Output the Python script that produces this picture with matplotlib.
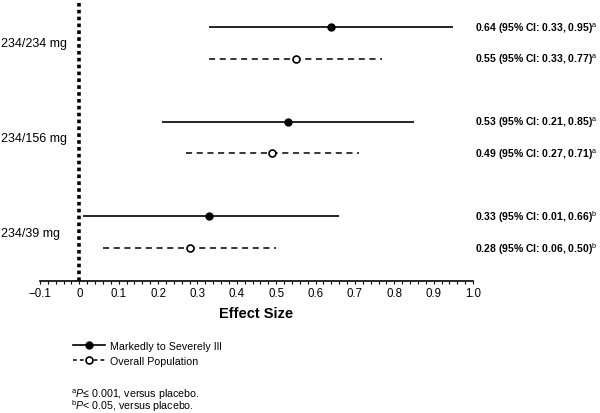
import numpy as np
import matplotlib.pyplot as plt
from matplotlib.lines import Line2D
from matplotlib.ticker import MultipleLocator

plt.rcParams['font.family'] = ['Liberation Sans', 'DejaVu Sans']
plt.rcParams['mathtext.fontset'] = 'custom'
plt.rcParams['mathtext.rm'] = 'Liberation Sans'
plt.rcParams['mathtext.it'] = 'Liberation Sans:italic'
plt.rcParams['mathtext.bf'] = 'Liberation Sans:bold'

# dose groups
groups = ['234/234 mg', '234/156 mg', '234/39 mg']

# markedly to severely ill
severe_es = [0.64, 0.53, 0.33]
severe_lo = [0.33, 0.21, 0.01]
severe_hi = [0.95, 0.85, 0.66]

# overall population
overall_es = [0.55, 0.49, 0.28]
overall_lo = [0.33, 0.27, 0.06]
overall_hi = [0.77, 0.71, 0.50]

# significance footnote per group
sig = ['a', 'a', 'b']

xticks = [-0.1, 0, 0.1, 0.2, 0.3, 0.4, 0.5, 0.6, 0.7, 0.8, 0.9, 1.0]
xticklabels = ['\u22120.1', '0', '0.1', '0.2', '0.3', '0.4', '0.5',
               '0.6', '0.7', '0.8', '0.9', '1.0']

fig = plt.figure(figsize=(6, 4.14), dpi=100)
ax = fig.add_axes([40 / 600, 1 - 282 / 414, 433 / 600, 282 / 414])

y_sev = np.arange(3) * 3 + 0.9
y_all = y_sev + 1.0

for i in range(3):
    ax.plot([severe_lo[i], severe_hi[i]], [y_sev[i]] * 2, color='black', lw=1.2,
            solid_capstyle='butt')
    ax.plot(severe_es[i], y_sev[i], 'o', color='black', ms=5)
    ax.plot([overall_lo[i], overall_hi[i]], [y_all[i]] * 2, color='black', lw=1.1,
            dashes=(4, 3))
    ax.plot(overall_es[i], y_all[i], 'o', mfc='white', mec='black', mew=1.2, ms=5)

    ax.text(1.005, y_sev[i],
            '%.2f (95%% CI: %.2f, %.2f)$^{\\mathrm{%s}}$' % (severe_es[i], severe_lo[i], severe_hi[i], sig[i]),
            fontsize=7.5, fontweight='bold', va='center', ha='left', clip_on=False)
    ax.text(1.005, y_all[i],
            '%.2f (95%% CI: %.2f, %.2f)$^{\\mathrm{%s}}$' % (overall_es[i], overall_lo[i], overall_hi[i], sig[i]),
            fontsize=7.5, fontweight='bold', va='center', ha='left', clip_on=False)

# zero line
ax.axvline(0, color='black', lw=2.6, linestyle=(0, (1, 0.9)))

ax.set_xlim(-0.1, 1.0)
ax.set_ylim(8.95, 0)
ax.set_yticks([])

# group labels, left-aligned at the figure edge
for i, g in enumerate(groups):
    ax.text(1 / 600, 1 - (44 + 95 * i) / 414, g, transform=fig.transFigure,
            fontsize=9, ha='left', va='center')

ax.set_xticks(xticks)
ax.set_xticklabels(xticklabels, fontsize=8.3)
ax.xaxis.set_minor_locator(MultipleLocator(0.02))
ax.tick_params(axis='x', which='major', length=2.5, width=0.8, pad=2)
ax.tick_params(axis='x', which='minor', length=2, width=0.8)

for s in ['top', 'right', 'left']:
    ax.spines[s].set_visible(False)
ax.spines['bottom'].set_linewidth(1.2)

ax.set_xlabel('Effect Size', fontsize=10.5, fontweight='bold', labelpad=5)

handles = [
    Line2D([], [], color='black', lw=1.2, marker='o', ms=5),
    Line2D([], [], color='black', lw=1.1, dashes=(2.5, 2), marker='o', mfc='white',
           mec='black', mew=1.2, ms=5),
]
fig.legend(handles, ['Markedly to Severely Ill', 'Overall Population'],
           loc='upper left', bbox_to_anchor=(73 / 600, 1 - 342 / 414),
           frameon=False, fontsize=7.7, handlelength=3.0, handletextpad=0.5,
           labelspacing=0.45, borderpad=0, borderaxespad=0)

footnotes = ('$^{\\mathrm{a}}$$\\mathit{P}$\u2264 0.001, versus placebo.\n'
             '$^{\\mathrm{b}}$$\\mathit{P}$< 0.05, versus placebo.')
fig.text(71 / 600, 1 - 413.6 / 414, footnotes, fontsize=7.7, va='bottom', ha='left',
         linespacing=0.66)

plt.savefig('out.png', dpi=100)
